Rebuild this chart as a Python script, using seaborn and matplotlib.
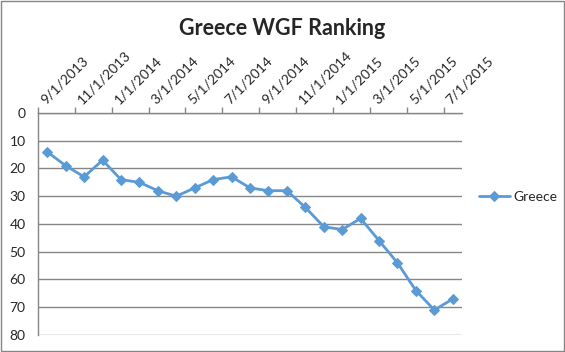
import seaborn as sns
import matplotlib.pyplot as plt
import pandas as pd
from matplotlib.patches import Rectangle

# ranking of Greece, monthly Sep 2013 .. Jul 2015
months = pd.date_range("2013-09-01", "2015-07-01", freq="MS")
ranking = [14, 19, 23, 17, 24, 25, 28, 30, 27, 24, 23, 27,
           28, 28, 34, 41, 42, 38, 46, 54, 64, 71, 67]
tick_labels = [f"{d.month}/{d.day}/{d.year}" for d in months[::2]]

df = pd.DataFrame({"pos": range(len(months)), "rank": ranking, "country": "Greece"})

sns.set_style("white")
plt.rcParams["font.family"] = ["Lato", "DejaVu Sans"]

fig = plt.figure(figsize=(5.65, 3.52), dpi=100)
ax = fig.add_axes([0.0673, 0.0483, 0.7504, 0.6307])

sns.lineplot(data=df, x="pos", y="rank", hue="country", palette=["#5B9BD5"],
             marker="D", markersize=5.5, markeredgecolor="#5B9BD5",
             linewidth=2, ax=ax)

ax.set_xlim(-0.5, 22.5)
ax.set_ylim(80, 0)
ax.set_yticks(range(0, 81, 10))
ax.yaxis.grid(True, color="#868686", linewidth=1)
ax.set_xlabel("")
ax.set_ylabel("")

ax.xaxis.tick_top()
ax.set_xticks(range(0, 23, 2))
ax.set_xticklabels(tick_labels, rotation=45, ha="left", va="bottom",
                   rotation_mode="anchor", fontsize=10)
ax.set_xticks([x - 0.5 for x in range(0, 23, 2)], minor=True)
ax.tick_params(axis="x", which="major", length=0, pad=5)
ax.tick_params(axis="x", which="minor", length=4, color="#868686", width=1, direction="out", top=True, bottom=False)
ax.tick_params(axis="y", length=0, pad=9, labelsize=10)

for s in ["right", "bottom"]:
    ax.spines[s].set_visible(False)
for s in ["left", "top"]:
    ax.spines[s].set_color("#868686")
    ax.spines[s].set_linewidth(1)

leg = ax.legend(loc="center left", bbox_to_anchor=(0.848, 0.44),
                bbox_transform=fig.transFigure, frameon=False, borderaxespad=0,
                borderpad=0, fontsize=10, handlelength=2.2, handletextpad=0.3)

fig.text(0.5, 0.92, "Greece WGF Ranking", ha="center", va="center",
         fontsize=15.5, fontweight="bold")

fig.patches.append(Rectangle((0.002, 0.003), 0.996, 0.994, transform=fig.transFigure,
                             fill=False, edgecolor="#868686", linewidth=1))

fig.savefig("out.png", dpi=100)
